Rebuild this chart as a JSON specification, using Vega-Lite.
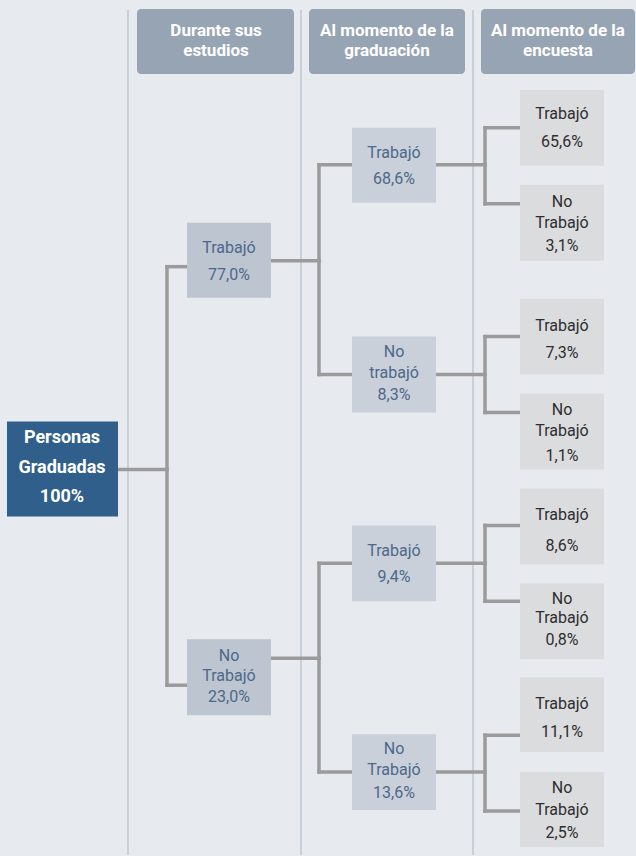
{
  "$schema": "https://vega.github.io/schema/vega-lite/v6.json",
  "width": 636,
  "height": 856,
  "autosize": {"type": "fit", "contains": "padding"},
  "padding": 0,
  "background": "#e7eaee",
  "config": {"view": {"stroke": null}},
  "datasets": {
    "dividers": [{"x": 128, "y": 10, "y2": 856}, {"x": 301, "y": 10, "y2": 856}, {"x": 473, "y": 10, "y2": 856}],
    "links": [
      {"x": 118, "y": 470, "x2": 167, "y2": 470},
      {"x": 167, "y": 267, "x2": 167, "y2": 686},
      {"x": 167, "y": 267, "x2": 187, "y2": 267},
      {"x": 167, "y": 686, "x2": 187, "y2": 686},
      {"x": 271, "y": 261, "x2": 319, "y2": 261},
      {"x": 319, "y": 165, "x2": 319, "y2": 375},
      {"x": 319, "y": 165, "x2": 352, "y2": 165},
      {"x": 319, "y": 375, "x2": 352, "y2": 375},
      {"x": 271, "y": 659, "x2": 319, "y2": 659},
      {"x": 319, "y": 564, "x2": 319, "y2": 773},
      {"x": 319, "y": 564, "x2": 352, "y2": 564},
      {"x": 319, "y": 773, "x2": 352, "y2": 773},
      {"x": 436, "y": 165, "x2": 485, "y2": 165},
      {"x": 485, "y": 128, "x2": 485, "y2": 204},
      {"x": 485, "y": 128, "x2": 520, "y2": 128},
      {"x": 485, "y": 204, "x2": 520, "y2": 204},
      {"x": 436, "y": 375, "x2": 485, "y2": 375},
      {"x": 485, "y": 337, "x2": 485, "y2": 413},
      {"x": 485, "y": 337, "x2": 520, "y2": 337},
      {"x": 485, "y": 413, "x2": 520, "y2": 413},
      {"x": 436, "y": 564, "x2": 485, "y2": 564},
      {"x": 485, "y": 526, "x2": 485, "y2": 602},
      {"x": 485, "y": 526, "x2": 520, "y2": 526},
      {"x": 485, "y": 602, "x2": 520, "y2": 602},
      {"x": 436, "y": 773, "x2": 485, "y2": 773},
      {"x": 485, "y": 736, "x2": 485, "y2": 812},
      {"x": 485, "y": 736, "x2": 520, "y2": 736},
      {"x": 485, "y": 812, "x2": 520, "y2": 812}
    ],
    "headers": [
      {"x": 137, "x2": 294, "y": 9, "y2": 74},
      {"x": 309, "x2": 465, "y": 9, "y2": 74},
      {"x": 481, "x2": 635, "y": 9, "y2": 74}
    ],
    "headerText": [
      {"t": "Durante sus", "x": 216, "y": 31},
      {"t": "estudios", "x": 216, "y": 51},
      {"t": "Al momento de la", "x": 387, "y": 31},
      {"t": "graduación", "x": 387, "y": 51},
      {"t": "Al momento de la", "x": 558, "y": 31},
      {"t": "encuesta", "x": 558, "y": 51}
    ],
    "nodes": [
      {"kind": "root", "x": 7, "x2": 118, "y": 422, "y2": 517},
      {"kind": "l1", "x": 187, "x2": 271, "y": 223, "y2": 298},
      {"kind": "l1", "x": 187, "x2": 271, "y": 640, "y2": 716},
      {"kind": "l2", "x": 352, "x2": 436, "y": 128, "y2": 203},
      {"kind": "l2", "x": 352, "x2": 436, "y": 337, "y2": 413},
      {"kind": "l2", "x": 352, "x2": 436, "y": 526, "y2": 602},
      {"kind": "l2", "x": 352, "x2": 436, "y": 735, "y2": 811},
      {"kind": "l3", "x": 520, "x2": 604, "y": 90, "y2": 166},
      {"kind": "l3", "x": 520, "x2": 604, "y": 185, "y2": 261},
      {"kind": "l3", "x": 520, "x2": 604, "y": 299, "y2": 375},
      {"kind": "l3", "x": 520, "x2": 604, "y": 394, "y2": 470},
      {"kind": "l3", "x": 520, "x2": 604, "y": 489, "y2": 565},
      {"kind": "l3", "x": 520, "x2": 604, "y": 584, "y2": 660},
      {"kind": "l3", "x": 520, "x2": 604, "y": 678, "y2": 753},
      {"kind": "l3", "x": 520, "x2": 604, "y": 773, "y2": 848}
    ],
    "rootText": [
      {"t": "Personas", "x": 62, "y": 439},
      {"t": "Graduadas", "x": 62, "y": 469},
      {"t": "100%", "x": 62, "y": 498}
    ],
    "nodeText": [
      {"kind": "l1", "t": "Trabajó", "x": 229, "y": 248},
      {"kind": "l1", "t": "77,0%", "x": 229, "y": 275},
      {"kind": "l1", "t": "No", "x": 229, "y": 657},
      {"kind": "l1", "t": "Trabajó", "x": 229, "y": 677},
      {"kind": "l1", "t": "23,0%", "x": 229, "y": 698},
      {"kind": "l2", "t": "Trabajó", "x": 394, "y": 153},
      {"kind": "l2", "t": "68,6%", "x": 394, "y": 179},
      {"kind": "l2", "t": "No", "x": 394, "y": 352},
      {"kind": "l2", "t": "trabajó", "x": 394, "y": 373},
      {"kind": "l2", "t": "8,3%", "x": 394, "y": 395},
      {"kind": "l2", "t": "Trabajó", "x": 394, "y": 552},
      {"kind": "l2", "t": "9,4%", "x": 394, "y": 578},
      {"kind": "l2", "t": "No", "x": 394, "y": 750},
      {"kind": "l2", "t": "Trabajó", "x": 394, "y": 771},
      {"kind": "l2", "t": "13,6%", "x": 394, "y": 794},
      {"kind": "l3", "t": "Trabajó", "x": 562, "y": 114},
      {"kind": "l3", "t": "65,6%", "x": 562, "y": 142},
      {"kind": "l3", "t": "No", "x": 562, "y": 202},
      {"kind": "l3", "t": "Trabajó", "x": 562, "y": 223},
      {"kind": "l3", "t": "3,1%", "x": 562, "y": 246},
      {"kind": "l3", "t": "Trabajó", "x": 562, "y": 326},
      {"kind": "l3", "t": "7,3%", "x": 562, "y": 353},
      {"kind": "l3", "t": "No", "x": 562, "y": 410},
      {"kind": "l3", "t": "Trabajó", "x": 562, "y": 432},
      {"kind": "l3", "t": "1,1%", "x": 562, "y": 457},
      {"kind": "l3", "t": "Trabajó", "x": 562, "y": 516},
      {"kind": "l3", "t": "8,6%", "x": 562, "y": 547},
      {"kind": "l3", "t": "No", "x": 562, "y": 600},
      {"kind": "l3", "t": "Trabajó", "x": 562, "y": 619},
      {"kind": "l3", "t": "0,8%", "x": 562, "y": 641},
      {"kind": "l3", "t": "Trabajó", "x": 562, "y": 705},
      {"kind": "l3", "t": "11,1%", "x": 562, "y": 733},
      {"kind": "l3", "t": "No", "x": 562, "y": 789},
      {"kind": "l3", "t": "Trabajó", "x": 562, "y": 811},
      {"kind": "l3", "t": "2,5%", "x": 562, "y": 834}
    ]
  },
  "resolve": {"scale": {"fill": "independent"}},
  "layer": [
    {
      "data": {"name": "dividers"},
      "mark": {"type": "rule", "stroke": "#a9b5c4", "strokeWidth": 1},
      "encoding": {
        "x": {"field": "x", "type": "quantitative", "scale": {"domain": [0, 636], "nice": false, "zero": false}, "axis": null},
        "y": {"field": "y", "type": "quantitative", "scale": {"domain": [0, 856], "nice": false, "zero": false, "reverse": true}, "axis": null},
        "y2": {"field": "y2"}
      }
    },
    {
      "data": {"name": "links"},
      "mark": {"type": "rule", "stroke": "#9b9b9b", "strokeWidth": 3.5, "strokeCap": "square"},
      "encoding": {
        "x": {"field": "x", "type": "quantitative"},
        "x2": {"field": "x2"},
        "y": {"field": "y", "type": "quantitative"},
        "y2": {"field": "y2"}
      }
    },
    {
      "data": {"name": "headers"},
      "mark": {"type": "rect", "fill": "#97a4b4", "cornerRadius": 4},
      "encoding": {
        "x": {"field": "x", "type": "quantitative"},
        "x2": {"field": "x2"},
        "y": {"field": "y", "type": "quantitative"},
        "y2": {"field": "y2"}
      }
    },
    {
      "data": {"name": "headerText"},
      "mark": {"type": "text", "fill": "#ffffff", "fontWeight": "bold", "fontSize": 17, "font": "Roboto", "baseline": "middle", "align": "center"},
      "encoding": {
        "x": {"field": "x", "type": "quantitative"},
        "y": {"field": "y", "type": "quantitative"},
        "text": {"field": "t"}
      }
    },
    {
      "data": {"name": "nodes"},
      "mark": {"type": "rect"},
      "encoding": {
        "x": {"field": "x", "type": "quantitative"},
        "x2": {"field": "x2"},
        "y": {"field": "y", "type": "quantitative"},
        "y2": {"field": "y2"},
        "fill": {"field": "kind", "type": "nominal", "legend": null, "scale": {"domain": ["root", "l1", "l2", "l3"], "range": ["#2f5f8a", "#bcc5d0", "#c9d0da", "#dbdcde"]}}
      }
    },
    {
      "data": {"name": "rootText"},
      "mark": {"type": "text", "fill": "#ffffff", "fontWeight": "bold", "fontSize": 18, "font": "Roboto", "baseline": "middle", "align": "center"},
      "encoding": {
        "x": {"field": "x", "type": "quantitative"},
        "y": {"field": "y", "type": "quantitative"},
        "text": {"field": "t"}
      }
    },
    {
      "data": {"name": "nodeText"},
      "mark": {"type": "text", "fontSize": 16, "font": "Roboto", "baseline": "middle", "align": "center"},
      "encoding": {
        "x": {"field": "x", "type": "quantitative"},
        "y": {"field": "y", "type": "quantitative"},
        "text": {"field": "t"},
        "fill": {"field": "kind", "type": "nominal", "legend": null, "scale": {"domain": ["l1", "l2", "l3"], "range": ["#4d6889", "#4d6889", "#2e2e2e"]}}
      }
    }
  ]
}
